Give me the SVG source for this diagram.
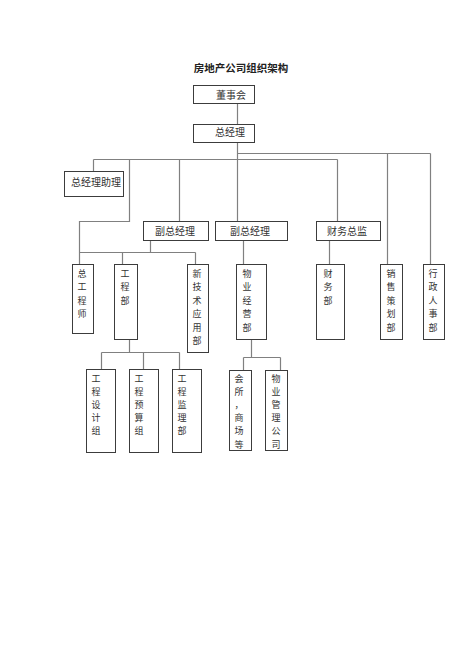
<svg xmlns="http://www.w3.org/2000/svg" width="474" height="670" viewBox="0 0 474 670">
<style>
.bg{fill:#ffffff}
.box{fill:#ffffff;stroke:#3c3c3c;stroke-width:1}
.ln{fill:none;stroke:#808080;stroke-width:1.2}
.t{font-family:"Noto Sans CJK SC","Noto Sans CJK TC",sans-serif;font-size:10px;fill:#333333;text-anchor:middle}
.v{font-family:"Noto Sans CJK SC","Noto Sans CJK TC",sans-serif;font-size:9px;fill:#333333;text-anchor:middle}
.title{font-family:"Noto Sans CJK SC",sans-serif;font-size:10.5px;font-weight:bold;fill:#222222;text-anchor:middle}
</style>
<rect class="bg" x="0" y="0" width="474" height="670"/>
<text class="title" x="241" y="72">房地产公司组织架构</text>
<g id="connectors">
<path class="ln" d="M237.5 103V124 M237.5 142V221 M237.5 153.5H430.5 M387.5 153.5V264 M430.5 153.5V264 M93.5 159.5H337.5 M93.5 159.5V171 M179.5 159.5V221 M337.5 159.5V221 M129.5 159.5V221.5H79.5V264 M79.5 252.5H195.5 M150.5 240V252.5 M122.5 252.5V264 M195.5 252.5V264 M243.5 240V264 M329.5 240V264 M129.5 339V352.5 M101.5 352.5H179.5 M101.5 352.5V369 M143.5 352.5V369 M179.5 352.5V369 M251.5 339V357.5 M243.5 357.5H280.5 M243.5 357.5V370 M280.5 357.5V370"/>
</g>
<g id="n_dongshihui"><rect class="box" x="193.5" y="85.5" width="61" height="18"/><text class="t" x="231" y="98.5">董事会</text></g>
<g id="n_zongjingli"><rect class="box" x="193.5" y="124.5" width="61" height="18"/><text class="t" x="230" y="136">总经理</text></g>
<g id="n_zhuli"><rect class="box" x="64.5" y="171.5" width="59" height="25"/><text class="t" x="96" y="186">总经理助理</text></g>
<g id="n_fu1"><rect class="box" x="143.5" y="221.5" width="65" height="19"/><text class="t" x="175" y="234.5">副总经理</text></g>
<g id="n_fu2"><rect class="box" x="215.5" y="221.5" width="72" height="19"/><text class="t" x="250" y="234.5">副总经理</text></g>
<g id="n_caiwuzongjian"><rect class="box" x="316.5" y="221.5" width="64" height="19"/><text class="t" x="347" y="234.5">财务总监</text></g>
<g id="n_zonggong"><rect class="box" x="72.5" y="264.5" width="21" height="69"/><text class="v"><tspan x="82" y="276.5">总</tspan><tspan x="82" y="290">工</tspan><tspan x="82" y="303.5">程</tspan><tspan x="82" y="317">师</tspan></text></g>
<g id="n_gongchengbu"><rect class="box" x="114.5" y="264.5" width="23" height="75"/><text class="v"><tspan x="125" y="276.5">工</tspan><tspan x="125" y="290">程</tspan><tspan x="125" y="303.5">部</tspan></text></g>
<g id="n_xinjishu"><rect class="box" x="187.5" y="264.5" width="21" height="88"/><text class="v"><tspan x="197" y="276.5">新</tspan><tspan x="197" y="290">技</tspan><tspan x="197" y="303.5">术</tspan><tspan x="197" y="317">应</tspan><tspan x="197" y="330.5">用</tspan><tspan x="197" y="344">部</tspan></text></g>
<g id="n_wuyejingying"><rect class="box" x="236.5" y="264.5" width="30" height="75"/><text class="v"><tspan x="247" y="276.5">物</tspan><tspan x="247" y="290">业</tspan><tspan x="247" y="303.5">经</tspan><tspan x="247" y="317">营</tspan><tspan x="247" y="330.5">部</tspan></text></g>
<g id="n_caiwubu"><rect class="box" x="316.5" y="264.5" width="28" height="75"/><text class="v"><tspan x="328" y="276.5">财</tspan><tspan x="328" y="290">务</tspan><tspan x="328" y="303.5">部</tspan></text></g>
<g id="n_xiaoshou"><rect class="box" x="380.5" y="264.5" width="22" height="75"/><text class="v"><tspan x="391" y="276.5">销</tspan><tspan x="391" y="290">售</tspan><tspan x="391" y="303.5">策</tspan><tspan x="391" y="317">划</tspan><tspan x="391" y="330.5">部</tspan></text></g>
<g id="n_xingzheng"><rect class="box" x="423.5" y="264.5" width="21" height="75"/><text class="v"><tspan x="433" y="276.5">行</tspan><tspan x="433" y="290">政</tspan><tspan x="433" y="303.5">人</tspan><tspan x="433" y="317">事</tspan><tspan x="433" y="330.5">部</tspan></text></g>
<g id="n_sheji"><rect class="box" x="86.5" y="369.5" width="29" height="83"/><text class="v"><tspan x="96" y="381.5">工</tspan><tspan x="96" y="394.7">程</tspan><tspan x="96" y="407.9">设</tspan><tspan x="96" y="421.1">计</tspan><tspan x="96" y="434.3">组</tspan></text></g>
<g id="n_yusuan"><rect class="box" x="129.5" y="369.5" width="29" height="83"/><text class="v"><tspan x="139" y="381.5">工</tspan><tspan x="139" y="394.7">程</tspan><tspan x="139" y="407.9">预</tspan><tspan x="139" y="421.1">算</tspan><tspan x="139" y="434.3">组</tspan></text></g>
<g id="n_jianli"><rect class="box" x="172.5" y="369.5" width="29" height="83"/><text class="v"><tspan x="182" y="381.5">工</tspan><tspan x="182" y="394.7">程</tspan><tspan x="182" y="407.9">监</tspan><tspan x="182" y="421.1">理</tspan><tspan x="182" y="434.3">部</tspan></text></g>
<g id="n_huisuo"><rect class="box" x="229.5" y="370.5" width="22" height="80"/><text class="v"><tspan x="239" y="381.5">会</tspan><tspan x="239" y="394.7">所</tspan><tspan x="239" y="407.9">，</tspan><tspan x="239" y="421.1">商</tspan><tspan x="239" y="434.3">场</tspan><tspan x="239" y="447.5">等</tspan></text></g>
<g id="n_wuyeguanli"><rect class="box" x="265.5" y="370.5" width="22" height="80"/><text class="v"><tspan x="276" y="381.5">物</tspan><tspan x="276" y="394.7">业</tspan><tspan x="276" y="407.9">管</tspan><tspan x="276" y="421.1">理</tspan><tspan x="276" y="434.3">公</tspan><tspan x="276" y="447.5">司</tspan></text></g>
</svg>
